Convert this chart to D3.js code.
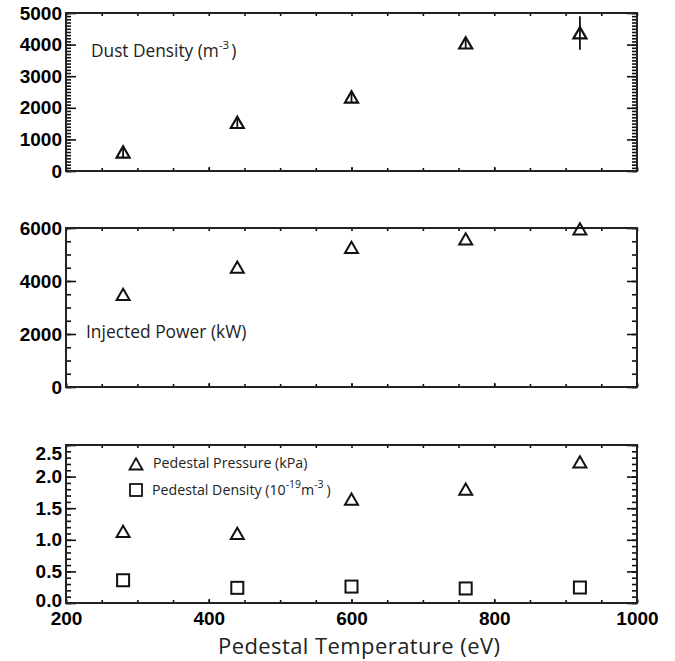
<!DOCTYPE html>
<html>
<head>
<meta charset="utf-8">
<script src="https://cdn.jsdelivr.net/npm/d3@7"></script>
<style>
	body { margin: 0; background: #fff; }
	svg { display: block; }
	.tick text { font-family: "Liberation Sans", Arial, sans-serif; font-weight: bold; font-size: 19px; fill: #000; }
	.lbl { font-family: "Open Sans", sans-serif; fill: #222; }
</style>
</head>
<body>
<div class="chart"></div>
<script>
// temperatures (eV)
const temps = [280, 440, 600, 760, 920];
// top panel: dust density (m^-3) and its error
const dustDensity = [600, 1535, 2340, 4050, 4370];
const dustErr = [180, 180, 180, 180, 530];
// middle panel: injected power (kW)
const injPower = [3490, 4520, 5260, 5585, 5960];
// bottom panel
const pedPressure = [1.13, 1.10, 1.64, 1.80, 2.23];
const pedDensity = [0.36, 0.24, 0.26, 0.23, 0.245];

const xTicks = [200, 400, 600, 800, 1000];
const dustTicks = [0, 1000, 2000, 3000, 4000, 5000];
const powerTicks = [0, 2000, 4000, 6000];
const presTicks = [0, 0.5, 1.0, 1.5, 2.0, 2.5];

const width = 675, height = 661;
const left = 66, right = 637;

const svg = d3.select('.chart').append('svg')
	.attr('width', width)
	.attr('height', height);

const x = d3.scaleLinear().domain([200, 1000]).range([left, right]);

function triPath(cx, cy) {
	return `M${cx},${cy - 5.8}L${cx + 6.5},${cy + 5.5}L${cx - 6.5},${cy + 5.5}Z`;
}

// draws frame, ticks on all four sides
function panel(top, bottom, yDomain, majors, minorStep, fmt, showX) {
	const y = d3.scaleLinear().domain(yDomain).range([bottom, top]);
	const g = svg.append('g');
	const minors = d3.range(yDomain[0], yDomain[1] + minorStep / 2, minorStep);
	const xMinors = d3.range(200, 1001, 50);

	g.append('g').attr('transform', `translate(${left},0)`)
		.call(d3.axisLeft(y).tickValues(minors).tickSize(-5).tickFormat(''));
	g.append('g').attr('class', 'ylab').attr('transform', `translate(${left},0)`)
		.call(d3.axisLeft(y).tickValues(majors).tickSize(-10).tickPadding(4).tickFormat(fmt));
	g.append('g').attr('transform', `translate(${right},0)`)
		.call(d3.axisRight(y).tickValues(minors).tickSize(-5).tickFormat(''));
	g.append('g').attr('transform', `translate(${right},0)`)
		.call(d3.axisRight(y).tickValues(majors).tickSize(-10).tickFormat(''));

	g.append('g').attr('transform', `translate(0,${top})`)
		.call(d3.axisTop(x).tickValues(xMinors).tickSize(-3).tickFormat(''));
	g.append('g').attr('transform', `translate(0,${bottom})`)
		.call(d3.axisBottom(x).tickValues(xMinors).tickSize(-3).tickFormat(''));
	g.append('g').attr('transform', `translate(0,${bottom})`)
		.call(d3.axisBottom(x).tickValues(xTicks).tickSize(-4).tickPadding(8.5)
			.tickFormat(showX ? d3.format('d') : ''));

	g.selectAll('.domain').remove();
	g.selectAll('.tick line').attr('stroke', '#111').attr('stroke-width', 1.6);

	g.append('rect')
		.attr('x', left).attr('y', top)
		.attr('width', right - left).attr('height', bottom - top)
		.attr('fill', 'none').attr('stroke', '#222').attr('stroke-width', 2);
	return { y: y, g: g };
}

// top panel
const p1 = panel(13, 171, [0, 5000], dustTicks, 100, d3.format('d'), false);
const y1 = p1.y;
svg.selectAll('.err')
	.data(temps)
	.enter()
	.append('line')
	.attr('x1', d => x(d)).attr('x2', d => x(d))
	.attr('y1', (d, i) => y1(dustDensity[i] - dustErr[i]))
	.attr('y2', (d, i) => y1(dustDensity[i] + dustErr[i]))
	.attr('stroke', '#111').attr('stroke-width', 1.8);
svg.selectAll('.dust')
	.data(temps)
	.enter()
	.append('path')
	.attr('d', (d, i) => triPath(x(d), y1(dustDensity[i])))
	.attr('fill', 'none').attr('stroke', '#111').attr('stroke-width', 2.2);

const t1 = svg.append('text').attr('class', 'lbl')
	.attr('x', 91).attr('y', 57).attr('font-size', '17.3px');
t1.append('tspan').text('Dust Density (m');
t1.append('tspan').text('-3').attr('font-size', '11.5px').attr('dy', -8);
t1.append('tspan').text(')').attr('dy', 8).attr('dx', 2);

// middle panel
const y2 = panel(228, 387, [0, 6000], powerTicks, 500, d3.format('d'), false).y;
svg.selectAll('.pow')
	.data(temps)
	.enter()
	.append('path')
	.attr('d', (d, i) => triPath(x(d), y2(injPower[i])))
	.attr('fill', 'none').attr('stroke', '#111').attr('stroke-width', 2);

svg.append('text').attr('class', 'lbl')
	.attr('x', 86).attr('y', 338).attr('font-size', '17.4px')
	.text('Injected Power (kW)');

// bottom panel
const p3 = panel(445, 603, [0, 2.5], presTicks, 0.1, d3.format('.1f'), true);
const y3 = p3.y;
// nudge the end labels as in the original
p3.g.selectAll('.ylab .tick text')
	.attr('y', d => d === 2.5 ? 8 : (d === 0 ? -3 : 0));
svg.selectAll('.pres')
	.data(temps)
	.enter()
	.append('path')
	.attr('d', (d, i) => triPath(x(d), y3(pedPressure[i])))
	.attr('fill', 'none').attr('stroke', '#111').attr('stroke-width', 2);
svg.selectAll('.dens')
	.data(temps)
	.enter()
	.append('rect')
	.attr('x', d => x(d) - 6)
	.attr('y', (d, i) => y3(pedDensity[i]) - 6)
	.attr('width', 12).attr('height', 12)
	.attr('fill', 'none').attr('stroke', '#111').attr('stroke-width', 2);

// legend
svg.append('path').attr('d', triPath(136, 464))
	.attr('fill', 'none').attr('stroke', '#111').attr('stroke-width', 1.8);
svg.append('text').attr('class', 'lbl')
	.attr('x', 153).attr('y', 468).attr('font-size', '14.2px')
	.text('Pedestal Pressure (kPa)');
svg.append('rect').attr('x', 130).attr('y', 484).attr('width', 12).attr('height', 12)
	.attr('fill', 'none').attr('stroke', '#111').attr('stroke-width', 1.8);
const t3 = svg.append('text').attr('class', 'lbl')
	.attr('x', 152).attr('y', 495).attr('font-size', '14.2px');
t3.append('tspan').text('Pedestal Density (10');
t3.append('tspan').text('-19').attr('font-size', '10.5px').attr('dy', -7);
t3.append('tspan').text('m').attr('dy', 7);
t3.append('tspan').text('-3').attr('font-size', '10.5px').attr('dy', -7);
t3.append('tspan').text(')').attr('dy', 7).attr('dx', 3);

// x axis title
svg.append('text').attr('class', 'lbl')
	.attr('x', 359).attr('y', 653.5).attr('font-size', '22px')
	.attr('text-anchor', 'middle')
	.attr('textLength', 282).attr('lengthAdjust', 'spacing')
	.text('Pedestal Temperature (eV)');
</script>
</body>
</html>
